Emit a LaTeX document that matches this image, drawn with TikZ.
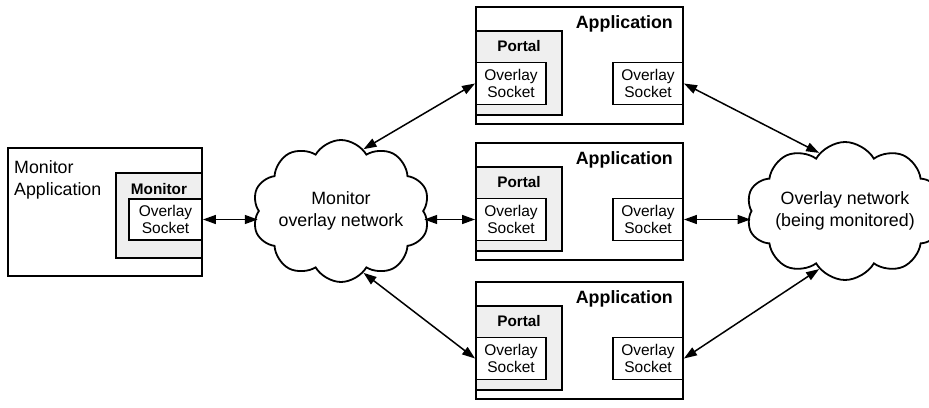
\documentclass[tikz,border=0pt]{standalone}
\usepackage{fontspec}
\setmainfont{Liberation Sans}
\usetikzlibrary{shapes.symbols,arrows.meta}
\definecolor{panel}{HTML}{EFEFEF}
\tikzset{
  frame/.style={draw, line width=1.9pt, fill=white, inner sep=0pt, minimum width=#1},
  greybox/.style={draw, line width=1.9pt, fill=panel, inner sep=0pt},
  sock/.style={draw, line width=1.9pt, fill=white, inner sep=0pt, minimum width=70pt, minimum height=42pt,
    align=center, font=\fontsize{15.5}{17}\selectfont},
  netcloud/.style={cloud, cloud puffs=10, cloud puff arc=120, shape border rotate=18, cloud ignores aspect,
    draw, line width=1.8pt, inner sep=0pt, align=center, font=\fontsize{17.8}{22}\selectfont},
  arr/.style={line width=1.5pt, {Triangle[length=13pt,width=9pt]}-{Triangle[length=13pt,width=9pt]}},
  bigtxt/.style={inner sep=0pt, font=\fontsize{17.8}{22}\selectfont},
  headtxt/.style={inner sep=0pt, font=\fontsize{17.8}{22}\selectfont\bfseries},
  subhead/.style={inner sep=0pt, font=\fontsize{15.3}{17}\selectfont\bfseries},
}
\begin{document}
\begin{tikzpicture}[x=1pt,y=-1pt]
\useasboundingbox (0,0) rectangle (929,407);

% monitor application
\node[frame=194pt, minimum height=128pt] (mapp) at (105,212) {};
\node[bigtxt, anchor=base west] (mapptxt) at (14,173) {Monitor};
\node[bigtxt, anchor=base west] (mapptxt2) at (14,195) {Application};
\node[greybox, minimum width=86pt, minimum height=85pt] (mon) at (159,215.5) {};
\node[subhead, anchor=base] (montxt) at (159,194) {Monitor};
\node[sock, minimum width=73pt, minimum height=41pt] (ms) at (165.5,219.5) {Overlay\\Socket};

% clouds
\node[netcloud, minimum width=174pt, minimum height=142pt] (c1) at (341,211) {Monitor\\overlay network};
\node[netcloud, minimum width=166pt, minimum height=138pt] (c2) at (845,211) {Overlay network\\(being monitored)};

% the three applications
\foreach \T/\k in {7/1,143/2,282/3}{
  \node[frame=207pt, minimum height=117pt] (app\k) at (579.5,\T+58.5) {};
  \node[headtxt, anchor=base east] (apptxt\k) at (673,\T+21) {Application};
  \node[greybox, minimum width=86pt, minimum height=84pt] (portal\k) at (519,\T+66) {};
  \node[subhead, anchor=base] (portaltxt\k) at (519,\T+44) {Portal};
  \node[sock] (sl\k) at (511,\T+76.5) {Overlay\\Socket};
  \node[sock] (sr\k) at (648,\T+76.5) {Overlay\\Socket};
}

% connections
\draw[arr] (ms.east) -- (ms.east -| c1.west);
\draw[arr] (sl2.west -| c1.east) -- (sl2.west);
\draw[arr] (sr2.east) -- (sr2.east -| c2.west);
\draw[arr] (c1.70) -- (sl1.west);
\draw[arr] (c1.-70) -- (sl3.west);
\draw[arr] (sr1.east) -- (c2.114);
\draw[arr] (sr3.east) -- (c2.-114);
\end{tikzpicture}
\end{document}
